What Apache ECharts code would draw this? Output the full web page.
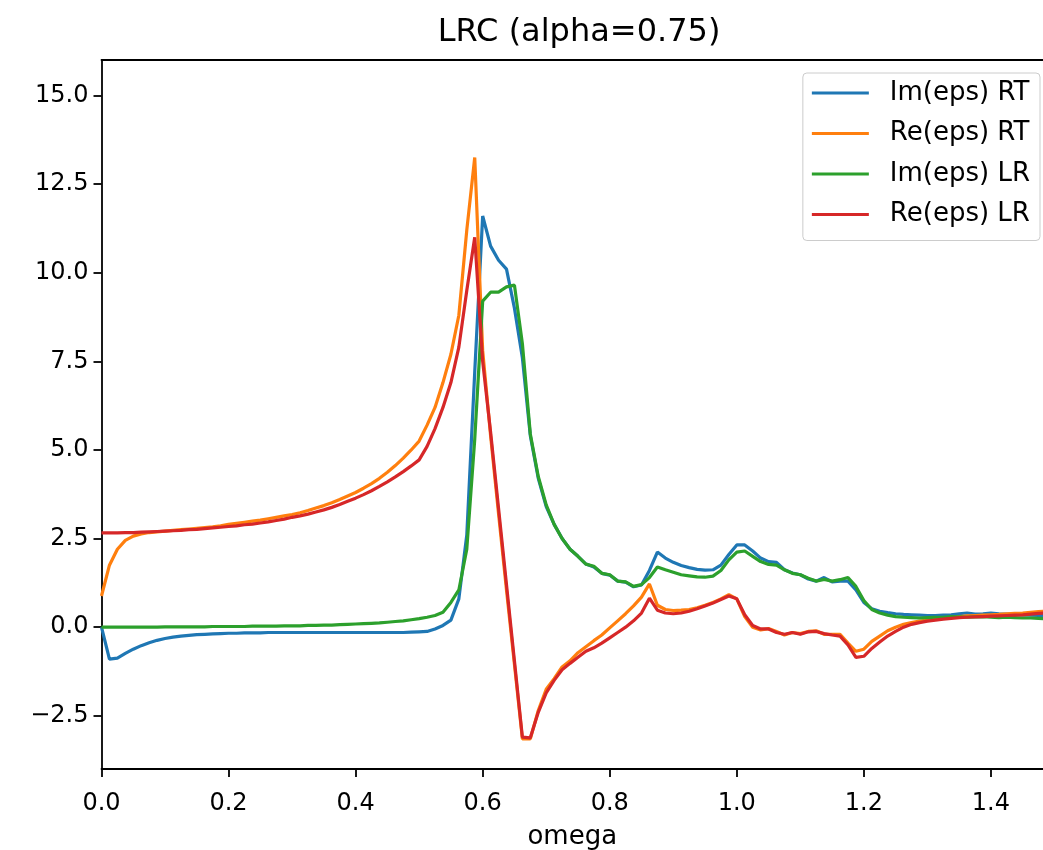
<!DOCTYPE html>
<html>
<head>
<meta charset="utf-8">
<title>LRC (alpha=0.75)</title>
<script src="https://cdn.jsdelivr.net/npm/echarts@6/dist/echarts.min.js"></script>
<style>
  html, body { margin: 0; padding: 0; background: #ffffff; }
  #chart { width: 1043px; height: 850px; }
</style>
</head>
<body>
<div id="chart"></div>
<script>
// Frequency grid (omega)
const omega = [
  0, 0.0125, 0.025, 0.0375, 0.05, 0.0625, 0.075, 0.0875, 0.1, 0.1125,
  0.125, 0.1375, 0.15, 0.1625, 0.175, 0.1875, 0.2, 0.2125, 0.225, 0.2375,
  0.25, 0.2625, 0.275, 0.2875, 0.3, 0.3125, 0.325, 0.3375, 0.35, 0.3625,
  0.375, 0.3875, 0.4, 0.4125, 0.425, 0.4375, 0.45, 0.4625, 0.475, 0.4875,
  0.5, 0.5125, 0.525, 0.5375, 0.55, 0.5625, 0.575, 0.5875, 0.6, 0.6125,
  0.625, 0.6375, 0.65, 0.6625, 0.675, 0.6875, 0.7, 0.7125, 0.725, 0.7375,
  0.75, 0.7625, 0.775, 0.7875, 0.8, 0.8125, 0.825, 0.8375, 0.85, 0.8625,
  0.875, 0.8875, 0.9, 0.9125, 0.925, 0.9375, 0.95, 0.9625, 0.975, 0.9875,
  1.0, 1.0125, 1.025, 1.0375, 1.05, 1.0625, 1.075, 1.0875, 1.1, 1.1125,
  1.125, 1.1375, 1.15, 1.1625, 1.175, 1.1875, 1.2, 1.2125, 1.225, 1.2375,
  1.25, 1.2625, 1.275, 1.2875, 1.3, 1.3125, 1.325, 1.3375, 1.35, 1.3625,
  1.375, 1.3875, 1.4, 1.4125, 1.425, 1.4375, 1.45, 1.4625, 1.475, 1.4875
];

// Im(eps), real-time propagation
const imEpsRT = [
  0.0, -0.90, -0.87, -0.74, -0.62, -0.52, -0.44, -0.37, -0.32, -0.28,
  -0.25, -0.23, -0.21, -0.20, -0.19, -0.18, -0.17, -0.17, -0.16, -0.16,
  -0.16, -0.15, -0.15, -0.15, -0.15, -0.15, -0.15, -0.15, -0.15, -0.15,
  -0.15, -0.15, -0.15, -0.15, -0.15, -0.15, -0.15, -0.15, -0.15, -0.14,
  -0.13, -0.12, -0.05, 0.05, 0.2, 0.8, 2.6, 7.2, 11.6, 10.75,
  10.35, 10.1, 9.0, 7.6, 5.4, 4.2, 3.4, 2.9, 2.5, 2.2,
  2.0, 1.78, 1.7, 1.52, 1.47, 1.3, 1.27, 1.14, 1.19, 1.6,
  2.12, 1.95, 1.83, 1.74, 1.68, 1.63, 1.61, 1.62, 1.75, 2.05,
  2.32, 2.32, 2.15, 1.95, 1.85, 1.83, 1.62, 1.53, 1.48, 1.36,
  1.3, 1.4, 1.28, 1.3, 1.3, 1.05, 0.7, 0.52, 0.45, 0.41,
  0.38, 0.36, 0.35, 0.34, 0.33, 0.33, 0.34, 0.35, 0.38, 0.4,
  0.37, 0.38, 0.4, 0.38, 0.37, 0.37, 0.35, 0.34, 0.33, 0.33
];

// Re(eps), real-time propagation
const reEpsRT = [
  0.88, 1.75, 2.2, 2.45, 2.57, 2.63, 2.67, 2.69, 2.71, 2.73,
  2.75, 2.77, 2.79, 2.81, 2.83, 2.86, 2.9, 2.93, 2.96, 2.99,
  3.02, 3.06, 3.1, 3.14, 3.18, 3.23, 3.29, 3.36, 3.43, 3.51,
  3.6, 3.7, 3.8, 3.92, 4.05, 4.2, 4.37, 4.56, 4.77, 5.0,
  5.25, 5.7, 6.2, 6.9, 7.7, 8.8, 11.2, 13.25, 7.8, 5.4,
  3.2, 1.05, -1.05, -3.15, -3.15, -2.35, -1.75, -1.45, -1.12, -0.95,
  -0.72, -0.55, -0.38, -0.22, -0.02, 0.18, 0.38, 0.6, 0.85, 1.22,
  0.62, 0.5, 0.47, 0.48, 0.5, 0.55, 0.62, 0.7, 0.8, 0.92,
  0.8, 0.3, 0.0, -0.08, -0.04, -0.12, -0.22, -0.15, -0.18, -0.12,
  -0.1, -0.2, -0.2, -0.2, -0.45, -0.68, -0.62, -0.4, -0.25, -0.1,
  0.0, 0.08, 0.13, 0.17, 0.2, 0.23, 0.26, 0.28, 0.3, 0.32,
  0.33, 0.34, 0.35, 0.36, 0.38, 0.39, 0.4, 0.42, 0.44, 0.45
];

// Im(eps), linear response
const imEpsLR = [
  0.0, 0.0, 0.0, 0.0, 0.0, 0.0, 0.0, 0.0, 0.01, 0.01,
  0.01, 0.01, 0.01, 0.01, 0.02, 0.02, 0.02, 0.02, 0.02, 0.03,
  0.03, 0.03, 0.03, 0.04, 0.04, 0.04, 0.05, 0.05, 0.06, 0.06,
  0.07, 0.08, 0.09, 0.1, 0.11, 0.12, 0.14, 0.16, 0.18, 0.21,
  0.24, 0.28, 0.33, 0.42, 0.7, 1.05, 2.2, 5.3, 9.2, 9.45,
  9.45, 9.6, 9.65, 8.0, 5.45, 4.25, 3.45, 2.9, 2.5, 2.2,
  2.0, 1.78, 1.72, 1.52, 1.48, 1.3, 1.28, 1.15, 1.2, 1.4,
  1.7, 1.62, 1.55, 1.48, 1.45, 1.42, 1.41, 1.44, 1.6, 1.9,
  2.12, 2.15, 2.0, 1.85, 1.77, 1.75, 1.62, 1.52, 1.48, 1.38,
  1.3, 1.35, 1.3, 1.34, 1.4, 1.15, 0.75, 0.5, 0.4, 0.34,
  0.3, 0.28, 0.27, 0.26, 0.27, 0.28, 0.28, 0.3, 0.29, 0.28,
  0.29, 0.3, 0.28, 0.27, 0.28, 0.27, 0.26, 0.26, 0.25, 0.24
];

// Re(eps), linear response
const reEpsLR = [
  2.66, 2.66, 2.66, 2.67, 2.67, 2.68, 2.69, 2.7, 2.71, 2.72,
  2.73, 2.75, 2.76, 2.78, 2.8, 2.82, 2.84, 2.86, 2.89, 2.91,
  2.94, 2.97, 3.01, 3.05, 3.1, 3.14, 3.19, 3.25, 3.31, 3.38,
  3.46, 3.55, 3.64, 3.74, 3.85, 3.97, 4.1, 4.24, 4.39, 4.55,
  4.72, 5.1, 5.6, 6.2, 6.9, 7.9, 9.5, 11.0, 7.5, 5.5,
  3.35, 1.2, -0.95, -3.1, -3.12, -2.4, -1.85, -1.5, -1.2, -1.02,
  -0.85, -0.68, -0.58, -0.45, -0.3, -0.15, 0.0, 0.18, 0.4, 0.82,
  0.48, 0.4, 0.38, 0.4, 0.45, 0.52, 0.6, 0.68, 0.78, 0.88,
  0.8, 0.35, 0.05, -0.05, -0.05, -0.15, -0.2, -0.15, -0.2, -0.13,
  -0.12, -0.18, -0.22, -0.25, -0.5, -0.85, -0.82, -0.6, -0.42, -0.25,
  -0.12, 0.0, 0.08, 0.13, 0.17, 0.2, 0.23, 0.25, 0.27, 0.28,
  0.29, 0.3, 0.31, 0.32, 0.33, 0.34, 0.35, 0.37, 0.39, 0.4
];

const seriesNames = ['Im(eps) RT', 'Re(eps) RT', 'Im(eps) LR', 'Re(eps) LR'];
const seriesValues = [imEpsRT, reEpsRT, imEpsLR, reEpsLR];
const seriesColors = ['#1f77b4', '#ff7f0e', '#2ca02c', '#d62728'];

const xTicks = [0, 0.2, 0.4, 0.6, 0.8, 1.0, 1.2, 1.4];
const yTicks = [-2.5, 0, 2.5, 5, 7.5, 10, 12.5, 15];

const FONT = 'DejaVu Sans';
const fmt = v => v.toFixed(1).replace('-', '\u2212');

const chart = echarts.init(document.getElementById('chart'), null, { renderer: 'canvas' });

chart.setOption({
  backgroundColor: '#ffffff',
  animation: false,
  title: {
    text: 'LRC (alpha=0.75)',
    left: 574,
    top: 12,
    textAlign: 'center',
    textStyle: { fontFamily: FONT, fontSize: 32, fontWeight: 'normal', color: '#000' }
  },
  legend: {
    data: seriesNames,
    orient: 'vertical',
    right: 3,
    top: 73,
    itemWidth: 57,
    itemHeight: 3,
    itemGap: 14.5,
    icon: 'rect',
    padding: [7, 10, 13, 9],
    backgroundColor: 'rgba(255,255,255,0.8)',
    borderColor: '#cccccc',
    borderWidth: 1,
    borderRadius: 4,
    textStyle: { fontFamily: FONT, fontSize: 26, color: '#000', padding: [0, 0, 0, 16], lineHeight: 26 }
  },
  grid: { left: 101.5, top: 60, right: 0, bottom: 81, outerBoundsMode: 'none', containLabel: false },
  xAxis: [
    {
      type: 'value',
      min: 0,
      max: 1.482,
      name: 'omega',
      nameLocation: 'middle',
      nameGap: 55,
      nameTextStyle: { fontFamily: FONT, fontSize: 26, color: '#000' },
      axisLine: { show: true, onZero: false, lineStyle: { color: '#000', width: 1.8 } },
      axisTick: { show: true, length: 8, lineStyle: { color: '#000', width: 1.8 }, customValues: xTicks },
      axisLabel: { fontFamily: FONT, fontSize: 24, color: '#000', margin: 23, customValues: xTicks, formatter: fmt },
      splitLine: { show: false }
    },
    {
      type: 'value',
      position: 'top',
      min: 0,
      max: 1.482,
      axisLine: { show: true, onZero: false, lineStyle: { color: '#000', width: 1.8 } },
      axisTick: { show: false },
      axisLabel: { show: false },
      splitLine: { show: false }
    }
  ],
  yAxis: {
    type: 'value',
    min: -4,
    max: 16,
    axisLine: { show: true, onZero: false, lineStyle: { color: '#000', width: 1.8 } },
    axisTick: { show: true, length: 8, lineStyle: { color: '#000', width: 1.8 }, customValues: yTicks },
    axisLabel: { fontFamily: FONT, fontSize: 24, color: '#000', margin: 13, customValues: yTicks, formatter: fmt },
    splitLine: { show: false }
  },
  series: seriesNames.map((name, k) => ({
    name: name,
    type: 'line',
    xAxisIndex: 0,
    showSymbol: false,
    symbol: 'none',
    clip: true,
    lineStyle: { color: seriesColors[k], width: 3.2 },
    itemStyle: { color: seriesColors[k] },
    data: omega.map((w, i) => [w, seriesValues[k][i]])
  }))
});
</script>
</body>
</html>
